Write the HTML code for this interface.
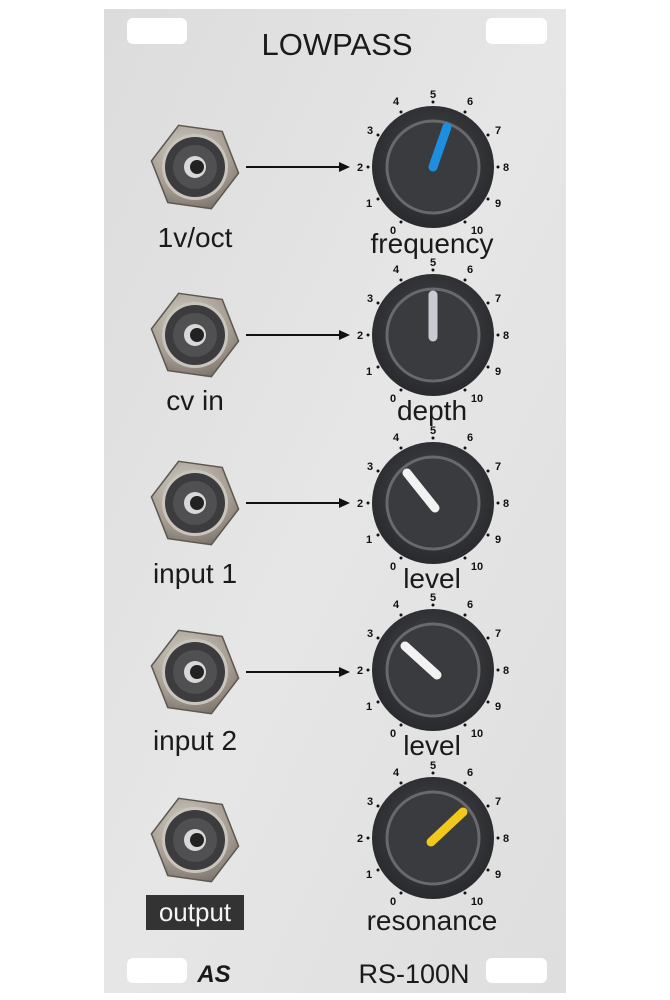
<!DOCTYPE html>
<html><head><meta charset="utf-8"><style>
html,body{margin:0;padding:0;background:#fff;width:670px;height:1000px;overflow:hidden}
svg{display:block}
text{font-family:"Liberation Sans","DejaVu Sans",sans-serif}
</style></head><body>
<svg width="670" height="1000" viewBox="0 0 670 1000">
<defs>
<linearGradient id="pan" x1="0" y1="0" x2="1" y2="1">
<stop offset="0" stop-color="#dcdcdc"/><stop offset="0.5" stop-color="#e6e6e6"/><stop offset="1" stop-color="#dedede"/>
</linearGradient>
<radialGradient id="nut" cx="0.4" cy="0.35" r="0.8">
<stop offset="0" stop-color="#d8d2c8"/><stop offset="0.6" stop-color="#a59d92"/><stop offset="1" stop-color="#6e665e"/>
</radialGradient>
<radialGradient id="kb" cx="0.5" cy="0.45" r="0.6">
<stop offset="0" stop-color="#4a4b4e"/><stop offset="1" stop-color="#26272a"/>
</radialGradient>
<g id="jack">
<polygon points="-22,-39 22,-39 44,0 22,39 -22,39 -44,0" fill="url(#nut)" stroke="#5e574f" stroke-width="1.5" transform="rotate(8)"/>
<circle r="33" fill="#c9c4bc"/>
<circle r="30" fill="#3c3c3e"/>
<circle r="22" fill="#505052"/>
<circle r="11" fill="#d8d8d8"/>
<circle r="7" cx="2" fill="#222"/>
</g>
<g id="knob">
<circle r="61" fill="url(#kb)"/>
<circle r="46" fill="none" stroke="#68696c" stroke-width="3"/>
<circle r="44" fill="#3a3b3e"/>
</g>
<g id="scale" fill="#111">
<circle cx="-32" cy="55" r="1.5"/><circle cx="-55" cy="32" r="1.5"/><circle cx="-65" cy="0" r="1.5"/><circle cx="-55" cy="-32" r="1.5"/><circle cx="-32" cy="-55" r="1.5"/><circle cx="0" cy="-65" r="1.5"/><circle cx="32" cy="-55" r="1.5"/><circle cx="55" cy="-32" r="1.5"/><circle cx="65" cy="0" r="1.5"/><circle cx="55" cy="32" r="1.5"/><circle cx="32" cy="55" r="1.5"/>
</g>
</defs>
<rect x="104" y="9" width="462" height="984" fill="url(#pan)"/>
<rect x="127" y="18" width="60" height="26" rx="6" fill="#fff"/>
<rect x="486" y="18" width="61" height="26" rx="6" fill="#fff"/>
<rect x="127" y="958" width="60" height="25" rx="6" fill="#fff"/>
<rect x="486" y="958" width="61" height="25" rx="6" fill="#fff"/>
<text x="337" y="55" font-size="31" text-anchor="middle" fill="#1a1a1a">LOWPASS</text>

<use href="#jack" x="195" y="167"/>
<line x1="246" y1="167" x2="342" y2="167" stroke="#111" stroke-width="2"/><polygon points="339,162 350,167 339,172" fill="#111"/>
<g transform="translate(433,167)"><use href="#knob"/><use href="#scale"/>
<text font-size="11" font-weight="bold" text-anchor="middle" fill="#111"><tspan x="-40" y="67">0</tspan><tspan x="-64" y="40">1</tspan><tspan x="-73" y="4">2</tspan><tspan x="-63" y="-33">3</tspan><tspan x="-37" y="-62">4</tspan><tspan x="0" y="-69">5</tspan><tspan x="37" y="-62">6</tspan><tspan x="65" y="-33">7</tspan><tspan x="73" y="4">8</tspan><tspan x="65" y="40">9</tspan><tspan x="44" y="67">10</tspan></text>
<line x1="0" y1="0" x2="14" y2="-40" stroke="#1e8ee0" stroke-width="9" stroke-linecap="round"/></g>
<text x="195" y="247" font-size="28" text-anchor="middle" fill="#1a1a1a">1v/oct</text>
<text x="432" y="253" font-size="28" text-anchor="middle" fill="#1a1a1a">frequency</text>

<use href="#jack" x="195" y="335"/>
<line x1="246" y1="335" x2="342" y2="335" stroke="#111" stroke-width="2"/><polygon points="339,330 350,335 339,340" fill="#111"/>
<g transform="translate(433,335)"><use href="#knob"/><use href="#scale"/>
<text font-size="11" font-weight="bold" text-anchor="middle" fill="#111"><tspan x="-40" y="67">0</tspan><tspan x="-64" y="40">1</tspan><tspan x="-73" y="4">2</tspan><tspan x="-63" y="-33">3</tspan><tspan x="-37" y="-62">4</tspan><tspan x="0" y="-69">5</tspan><tspan x="37" y="-62">6</tspan><tspan x="65" y="-33">7</tspan><tspan x="73" y="4">8</tspan><tspan x="65" y="40">9</tspan><tspan x="44" y="67">10</tspan></text>
<line x1="0" y1="2" x2="0" y2="-40" stroke="#c8ccd2" stroke-width="9" stroke-linecap="round"/></g>
<text x="195" y="410" font-size="28" text-anchor="middle" fill="#1a1a1a">cv in</text>
<text x="432" y="420" font-size="28" text-anchor="middle" fill="#1a1a1a">depth</text>

<use href="#jack" x="195" y="503"/>
<line x1="246" y1="503" x2="342" y2="503" stroke="#111" stroke-width="2"/><polygon points="339,498 350,503 339,508" fill="#111"/>
<g transform="translate(433,503)"><use href="#knob"/><use href="#scale"/>
<text font-size="11" font-weight="bold" text-anchor="middle" fill="#111"><tspan x="-40" y="67">0</tspan><tspan x="-64" y="40">1</tspan><tspan x="-73" y="4">2</tspan><tspan x="-63" y="-33">3</tspan><tspan x="-37" y="-62">4</tspan><tspan x="0" y="-69">5</tspan><tspan x="37" y="-62">6</tspan><tspan x="65" y="-33">7</tspan><tspan x="73" y="4">8</tspan><tspan x="65" y="40">9</tspan><tspan x="44" y="67">10</tspan></text>
<line x1="2" y1="5" x2="-26" y2="-30" stroke="#f2f2f2" stroke-width="9" stroke-linecap="round"/></g>
<text x="195" y="583" font-size="28" text-anchor="middle" fill="#1a1a1a">input 1</text>
<text x="432" y="588" font-size="28" text-anchor="middle" fill="#1a1a1a">level</text>

<use href="#jack" x="195" y="672"/>
<line x1="246" y1="672" x2="342" y2="672" stroke="#111" stroke-width="2"/><polygon points="339,667 350,672 339,677" fill="#111"/>
<g transform="translate(433,670)"><use href="#knob"/><use href="#scale"/>
<text font-size="11" font-weight="bold" text-anchor="middle" fill="#111"><tspan x="-40" y="67">0</tspan><tspan x="-64" y="40">1</tspan><tspan x="-73" y="4">2</tspan><tspan x="-63" y="-33">3</tspan><tspan x="-37" y="-62">4</tspan><tspan x="0" y="-69">5</tspan><tspan x="37" y="-62">6</tspan><tspan x="65" y="-33">7</tspan><tspan x="73" y="4">8</tspan><tspan x="65" y="40">9</tspan><tspan x="44" y="67">10</tspan></text>
<line x1="4" y1="5" x2="-28" y2="-24" stroke="#f2f2f2" stroke-width="9" stroke-linecap="round"/></g>
<text x="195" y="750" font-size="28" text-anchor="middle" fill="#1a1a1a">input 2</text>
<text x="432" y="755" font-size="28" text-anchor="middle" fill="#1a1a1a">level</text>

<use href="#jack" x="195" y="840"/>
<g transform="translate(433,838)"><use href="#knob"/><use href="#scale"/>
<text font-size="11" font-weight="bold" text-anchor="middle" fill="#111"><tspan x="-40" y="67">0</tspan><tspan x="-64" y="40">1</tspan><tspan x="-73" y="4">2</tspan><tspan x="-63" y="-33">3</tspan><tspan x="-37" y="-62">4</tspan><tspan x="0" y="-69">5</tspan><tspan x="37" y="-62">6</tspan><tspan x="65" y="-33">7</tspan><tspan x="73" y="4">8</tspan><tspan x="65" y="40">9</tspan><tspan x="44" y="67">10</tspan></text>
<line x1="-2" y1="4" x2="30" y2="-26" stroke="#f2c81a" stroke-width="9" stroke-linecap="round"/></g>
<rect x="146" y="895" width="98" height="35" fill="#333"/>
<text x="195" y="921" font-size="26" text-anchor="middle" fill="#f4f4f4">output</text>
<text x="432" y="930" font-size="28" text-anchor="middle" fill="#1a1a1a">resonance</text>

<text x="214" y="982" font-size="24" font-style="italic" font-weight="bold" text-anchor="middle" fill="#1a1a1a">AS</text>
<text x="414" y="983" font-size="27" text-anchor="middle" fill="#1a1a1a">RS-100N</text>
</svg>
</body></html>
